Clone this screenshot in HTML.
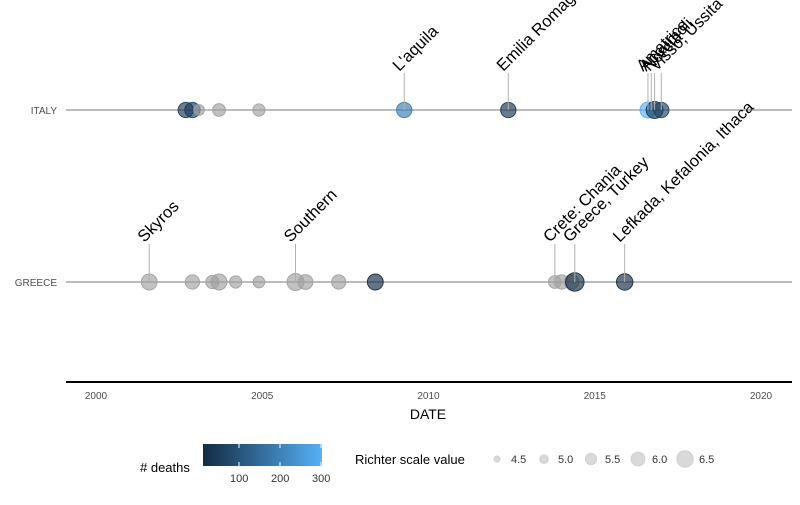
<!DOCTYPE html>
<html><head><meta charset="utf-8"><style>
body{margin:0;background:#fff;font-family:"Liberation Sans",sans-serif}
svg text{font-family:"Liberation Sans",sans-serif}
</style></head><body>
<svg id="chart" width="800" height="500" xmlns="http://www.w3.org/2000/svg">
<g id="axes"></g>
<g id="marks"></g>
<g id="labels"></g>
<g id="legend">
  <defs><linearGradient id="grad" x1="0" x2="1"><stop offset="0" stop-color="#132b43"/><stop offset="1" stop-color="#56b1f7"/></linearGradient></defs>
  <text x="140" y="472" font-size="13"># deaths</text>
  <rect x="203" y="444" width="119" height="22" fill="url(#grad)"/>
  <g stroke="#fff" stroke-width="1">
    <line x1="239" x2="239" y1="444" y2="448"/><line x1="239" x2="239" y1="462" y2="466"/>
    <line x1="280" x2="280" y1="444" y2="448"/><line x1="280" x2="280" y1="462" y2="466"/>
    <line x1="321" x2="321" y1="444" y2="448"/><line x1="321" x2="321" y1="462" y2="466"/>
  </g>
  <text x="230" y="482" font-size="11" fill="#333">100</text>
  <text x="271" y="482" font-size="11" fill="#333">200</text>
  <text x="312" y="482" font-size="11" fill="#333">300</text>
  <text x="355" y="464" font-size="13">Richter scale value</text>
</g>
</svg>
<script>
const countries = ["ITALY","GREECE"];
const italyYears = [2002.7,2002.9,2003.1,2003.7,2004.9,2009.27,2012.4,2016.6,2016.8,2017.0];
const italyMag = [6.3,6.3,5.4,5.8,5.7,6.3,6.3,6.4,6.6,6.3];
const italyDeaths = [30,40,null,null,null,180,20,300,30,50];
const greeceYears = [2001.6,2002.9,2003.5,2003.7,2004.2,2004.9,2006.0,2006.3,2007.3,2008.4,2013.8,2014.0,2014.3,2014.4,2015.9];
const greeceMag = [6.4,6.1,5.9,6.4,5.7,5.6,6.6,6.2,6.1,6.4,5.8,6.1,6.2,6.9,6.5];
const greeceDeaths = [null,null,null,null,null,null,null,null,null,2,null,null,null,3,2];
const italyLabelYears = [2009.27,2012.4,2016.6,2016.7,2016.8,2017.0];
const italyLabels = ["L'aquila","Emilia Romagna","Amatrice","Accumoli","Norcia","Visso, Ussita"];
const greeceLabelYears = [2001.6,2006.0,2013.8,2014.4,2015.9];
const greeceLabels = ["Skyros","Southern","Crete: Chania","Greece, Turkey","Lefkada, Kefalonia, Ithaca"];
const xTicks = [2000,2005,2010,2015,2020];
const legendMags = [4.5,5.0,5.5,6.0,6.5];

const NS="http://www.w3.org/2000/svg";
const x = v => 96 + (v-2000)*33.25;
const yRow = {ITALY:110, GREECE:282};
const r = m => 3 + (m-4.5)*2.6;
function col(d){ if(d==null) return "#a0a0a0";
  const t=Math.min(1,Math.max(0,(d-1)/299));
  const a=[0x13,0x2b,0x43], b=[0x56,0xb1,0xf7];
  return "rgb("+a.map((v,i)=>Math.round(v+(b[i]-v)*t)).join(",")+")"; }
function el(tag,attrs,parent){const e=document.createElementNS(NS,tag);for(const k in attrs)e.setAttribute(k,attrs[k]);parent.appendChild(e);return e;}
const axes=document.getElementById("axes"), marks=document.getElementById("marks"), labels=document.getElementById("labels"), legend=document.getElementById("legend");

countries.forEach(c=>{
  const l=el("line",{x1:66,x2:792,y1:yRow[c],y2:yRow[c],stroke:"#bdbdbd","stroke-width":2},axes);
  
  
  const t=el("text",{x:57,y:yRow[c]+4,"font-size":10,fill:"#4d4d4d","text-anchor":"end"},axes);
  t.textContent=c;
  
  
});
const ax=el("line",{x1:66,x2:792,y1:382,y2:382,stroke:"#000","stroke-width":2},axes);


xTicks.forEach(v=>{
  const t=el("text",{x:x(v),y:399,"font-size":10,fill:"#4d4d4d","text-anchor":"middle"},axes);
  t.textContent=v;
  
  
});
const xt=el("text",{x:428,y:419,"font-size":14,"text-anchor":"middle"},axes);
xt.textContent="DATE";



function drawLabels(years,names,row,top){
  years.forEach((v,i)=>{
    const s=el("line",{x1:x(v),x2:x(v),y1:top,y2:yRow[row],stroke:"#b0b0b0","stroke-width":1},labels);
    
    
    const tx=x(v)-5, ty=top-1;
    const t=el("text",{x:tx,y:ty,"font-size":16.5,transform:"rotate(-45 "+tx+" "+ty+")"},labels);
    t.textContent=names[i];
    
    
  });
}
drawLabels(italyLabelYears,italyLabels,"ITALY",73);
drawLabels(greeceLabelYears,greeceLabels,"GREECE",244);

function drawPts(years,mags,deaths,row){
  years.forEach((v,i)=>{
    const c=el("circle",{cx:x(v),cy:yRow[row],r:r(mags[i]),fill:col(deaths[i]),"fill-opacity":0.65,stroke:col(deaths[i]),"stroke-opacity":0.9},marks);
    
    
  });
}
drawPts(italyYears,italyMag,italyDeaths,"ITALY");
drawPts(greeceYears,greeceMag,greeceDeaths,"GREECE");

legendMags.forEach((m,i)=>{
  const cx=497+i*47;
  const c=el("circle",{cx:cx,cy:459,r:r(m),fill:"#d9d9d9",stroke:"#cfcfcf"},legend);
  
  
  const t=el("text",{x:cx+14,y:463,"font-size":11,fill:"#333"},legend);
  t.textContent=m.toFixed(1);
  
  
});
</script>
</body></html>
